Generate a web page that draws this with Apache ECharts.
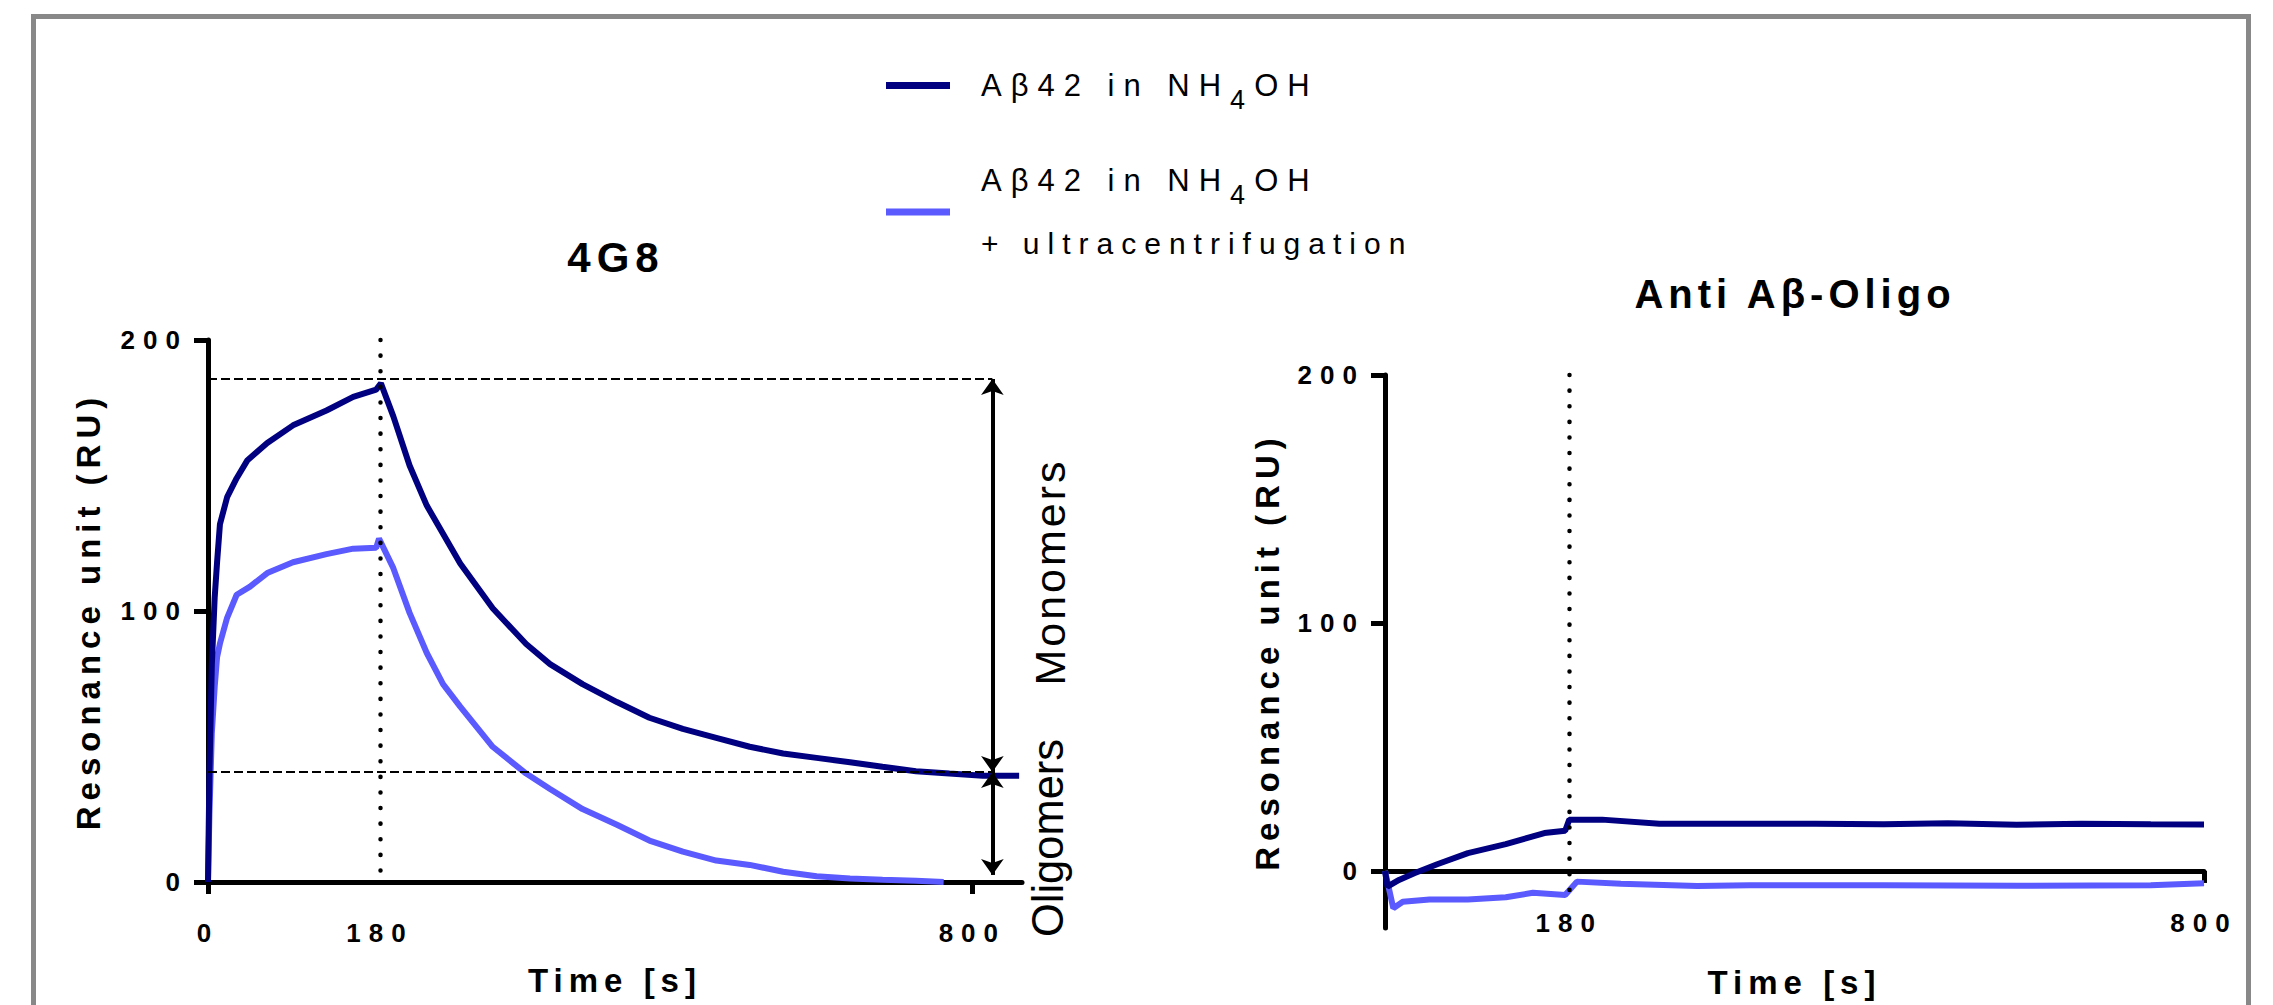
<!DOCTYPE html>
<html><head><meta charset="utf-8">
<script src="https://cdn.jsdelivr.net/npm/echarts@6/dist/echarts.min.js"></script>
<style>
html,body{margin:0;padding:0;background:#fff;}
#c{width:2273px;height:1005px;}
#c text[style*="26px"]{letter-spacing:8px;}
#c text[style*="33px"]{letter-spacing:6px;}
#c text[style*="42px"]{letter-spacing:6px;}
#c text[style*="40px"]{letter-spacing:5px;}
#c text[style*="31px"]{letter-spacing:9px;}
#c text[style*="30px"]{letter-spacing:8px;}
#c text[style*="27px"]{letter-spacing:9px;}
#c text[style*="43px"]{letter-spacing:3px;}
</style></head><body><div id="c"></div>
<script>
// ---------- data ----------
const seriesNames = ['Aβ42 in NH4OH', 'Aβ42 in NH4OH + ultracentrifugation'];
const panelTitles = ['4G8', 'Anti Aβ-Oligo'];
const xTitle = 'Time [s]';
const yTitle = 'Resonance unit (RU)';

// 4G8 panel
const t4g8Dark = [0, 1.5, 4, 7, 9.5, 12.5, 20, 30, 41, 62, 89, 124, 152, 176, 181, 194, 211, 229, 264, 298, 333, 358, 392, 428, 462, 497, 532, 567, 602, 637, 672, 706, 741, 776, 811, 849];
const v4g8Dark = [0, 40, 80, 105, 118, 132, 142, 149, 155.5, 162, 168.5, 174, 179, 181.7, 184, 171.8, 153.7, 138.9, 117.5, 101, 87.8, 80.4, 73, 66.4, 60.6, 56.5, 53.2, 49.9, 47.4, 45.8, 44.2, 42.5, 40.9, 40, 39.2, 39.2];
const t4g8Light = [0, 1.5, 4, 7, 9.5, 12.5, 20, 30, 44, 62, 89, 124, 152, 176, 179, 194, 211, 229, 246, 264, 298, 333, 358, 392, 428, 462, 497, 532, 567, 602, 637, 672, 706, 741, 770];
const v4g8Light = [0, 25, 55, 72, 83, 88, 97.5, 106, 109, 114, 118, 121, 123, 123.3, 126.7, 115.8, 99.3, 84.5, 73, 64.7, 49.9, 40, 34.3, 26.9, 21.1, 15.3, 11.2, 7.9, 6.3, 3.8, 2.1, 1.3, 0.8, 0.5, 0];

// Anti Aβ-Oligo panel
const tOligoDark = [0, 2.4, 13.7, 28.6, 51, 81, 118, 155.7, 176, 180, 212, 268, 342.6, 420, 487, 550, 617, 680, 748, 800];
const vOligoDark = [0, -6.3, -3.6, -0.9, 2.7, 7.2, 10.8, 15.3, 16.2, 20.7, 20.7, 19, 19, 19, 18.8, 19.2, 18.6, 19, 18.8, 18.7];
const tOligoLight = [0, 8.1, 17.4, 43.5, 81, 118, 144.5, 176, 187.5, 230.5, 305, 356, 487, 617, 748, 800];
const vOligoLight = [0, -15, -12.4, -11.5, -11.5, -10.6, -8.8, -9.7, -4.3, -5.2, -6.1, -5.8, -5.8, -6, -5.8, -5];

// axis ticks / annotations
const yTicks = [0, 100, 200];
const xLabels4g8 = [0, 180, 800];
const xTicks4g8 = [0, 800];
const xLabelsOligo = [180, 800];
const xTicksOligo = [800];
const injectionEnd = 180;
const monomerTop = 185.6;
const oligomerTop = 40.6;
const arrowTime = 821;
const oligomerBottom = 2.6;

// ---------- style ----------
const FONT = 'Liberation Sans, Arial, sans-serif';
const DARK = '#000080';
const LIGHT = '#5a5aff';
const zip = (a, b) => a.map((t, i) => [t, b[i]]);

const dotted = {color: '#000', width: 4.5, type: [0.1, 15.5], cap: 'round'};
const dashed = {color: '#000', width: 2, type: [9, 4]};
const arrowLine = {color: '#000', width: 4, type: 'solid'};

function xAxisCfg(idx, min, max, labels, ticks, lmargin, ngap) {
  return {
    type: 'value', gridIndex: idx, min: min, max: max,
    name: xTitle, nameLocation: 'middle', nameGap: ngap,
    nameTextStyle: {fontFamily: FONT, fontSize: 33, fontWeight: 'bold', color: '#000'},
    axisLine: {show: true, onZero: true, lineStyle: {color: '#000', width: 5}},
    axisTick: {show: true, customValues: ticks, length: 12, lineStyle: {color: '#000', width: 5}},
    axisLabel: {customValues: labels, margin: lmargin, fontFamily: FONT, fontSize: 26, fontWeight: 'bold', color: '#000'},
    splitLine: {show: false}
  };
}
function yAxisCfg(idx, min, gap, lmargin) {
  return {
    type: 'value', gridIndex: idx, min: min, max: 200,
    name: yTitle, nameLocation: 'middle', nameGap: gap, nameRotate: 90,
    nameTextStyle: {fontFamily: FONT, fontSize: 33, fontWeight: 'bold', color: '#000'},
    axisLine: {show: true, onZero: false, lineStyle: {color: '#000', width: 5}},
    axisTick: {show: true, customValues: yTicks, length: 14, lineStyle: {color: '#000', width: 5}},
    axisLabel: {customValues: yTicks, margin: lmargin, fontFamily: FONT, fontSize: 26, fontWeight: 'bold', color: '#000'},
    splitLine: {show: false}
  };
}

const legendFmt = {};
legendFmt[seriesNames[0]] = '{a|Aβ42 in NH}{s|4}{b|OH}';
legendFmt[seriesNames[1]] = '{a|Aβ42 in NH}{s|4}{b|OH}\n{c|+ ultracentrifugation}';

const option = {
  animation: false,
  backgroundColor: '#fff',
  title: [
    {text: panelTitles[0], left: 611, top: 231, textAlign: 'center',
     textStyle: {fontFamily: FONT, fontSize: 42, fontWeight: 'bold', color: '#000'}},
    {text: panelTitles[1], left: 1790, top: 269, textAlign: 'center',
     textStyle: {fontFamily: FONT, fontSize: 40, fontWeight: 'bold', color: '#000'}}
  ],
  legend: {
    orient: 'vertical', left: 881, top: 49, itemWidth: 64, itemHeight: 7, itemGap: 32,
    icon: 'rect', selectedMode: false, data: seriesNames,
    formatter: name => legendFmt[name],
    textStyle: {
      fontFamily: FONT, fontSize: 31, color: '#000', lineHeight: 63, padding: [0, 0, 0, 26],
      rich: {
        a: {fontFamily: FONT, fontSize: 31, lineHeight: 63, padding: [0, 90, 0, 0], color: '#000'},
        s: {fontFamily: FONT, fontSize: 27, lineHeight: 63, padding: [28, 9, 0, 0], color: '#000'},
        b: {fontFamily: FONT, fontSize: 31, lineHeight: 63, color: '#000'},
        c: {fontFamily: FONT, fontSize: 30, lineHeight: 63, color: '#000'}
      }
    }
  },
  grid: [
    {left: 208, top: 340, width: 814, height: 542, outerBoundsMode: 'none', containLabel: false},
    {left: 1385, top: 375, width: 819, height: 553, outerBoundsMode: 'none', containLabel: false}
  ],
  xAxis: [
    xAxisCfg(0, 0, 852, xLabels4g8, xTicks4g8, 38, 82),
    xAxisCfg(1, 0, 800, xLabelsOligo, xTicksOligo, -18, 38)
  ],
  yAxis: [
    yAxisCfg(0, 0, 103, 20),
    yAxisCfg(1, -23, 101, 20)
  ],
  graphic: [
    {type: 'rect', shape: {x: 33.5, y: 16.5, width: 2215, height: 1100},
     style: {fill: 'none', stroke: '#888', lineWidth: 5}, z: 100, silent: true},
    {type: 'text', x: 1050, y: 572, rotation: Math.PI / 2,
     style: {text: 'Monomers', font: '43px Liberation Sans, Arial, sans-serif', fill: '#000',
             align: 'center', verticalAlign: 'middle', textAlign: 'center', textVerticalAlign: 'middle'}},
    {type: 'text', x: 1048, y: 838, rotation: Math.PI / 2,
     style: {text: 'Oligomers', font: '43.5px Liberation Sans, Arial, sans-serif', fill: '#000',
             align: 'center', verticalAlign: 'middle', textAlign: 'center', textVerticalAlign: 'middle'}}
  ],
  series: [
    {name: seriesNames[0], type: 'line', xAxisIndex: 0, yAxisIndex: 0, symbol: 'none',
     data: zip(t4g8Dark, v4g8Dark), lineStyle: {color: DARK, width: 6}, itemStyle: {color: DARK}, z: 3,
     markLine: {
       silent: true, symbol: 'none', label: {show: false}, animation: false,
       data: [
         [{coord: [injectionEnd, 200], lineStyle: dotted}, {coord: [injectionEnd, 0]}],
         [{coord: [0, monomerTop], lineStyle: dashed}, {coord: [arrowTime, monomerTop]}],
         [{coord: [0, oligomerTop], lineStyle: dashed}, {coord: [arrowTime, oligomerTop]}],
         [{coord: [arrowTime, monomerTop], lineStyle: arrowLine, symbol: 'arrow', symbolSize: [17, 16]},
          {coord: [arrowTime, oligomerTop], symbol: 'arrow', symbolSize: [17, 16]}],
         [{coord: [arrowTime, oligomerTop], lineStyle: arrowLine, symbol: 'arrow', symbolSize: [17, 16]},
          {coord: [arrowTime, oligomerBottom], symbol: 'arrow', symbolSize: [17, 16]}]
       ]
     }},
    {name: seriesNames[1], type: 'line', xAxisIndex: 0, yAxisIndex: 0, symbol: 'none',
     data: zip(t4g8Light, v4g8Light), lineStyle: {color: LIGHT, width: 6}, itemStyle: {color: LIGHT}, z: 2},
    {name: seriesNames[0], type: 'line', xAxisIndex: 1, yAxisIndex: 1, symbol: 'none',
     data: zip(tOligoDark, vOligoDark), lineStyle: {color: DARK, width: 6}, itemStyle: {color: DARK}, z: 3,
     markLine: {
       silent: true, symbol: 'none', label: {show: false}, animation: false,
       data: [[{coord: [injectionEnd, 200], lineStyle: dotted}, {coord: [injectionEnd, -12]}]]
     }},
    {name: seriesNames[1], type: 'line', xAxisIndex: 1, yAxisIndex: 1, symbol: 'none',
     data: zip(tOligoLight, vOligoLight), lineStyle: {color: LIGHT, width: 6}, itemStyle: {color: LIGHT}, z: 2}
  ]
};
const chart = echarts.init(document.getElementById('c'), null, {renderer: 'svg'});
chart.setOption(option);
</script></body></html>
